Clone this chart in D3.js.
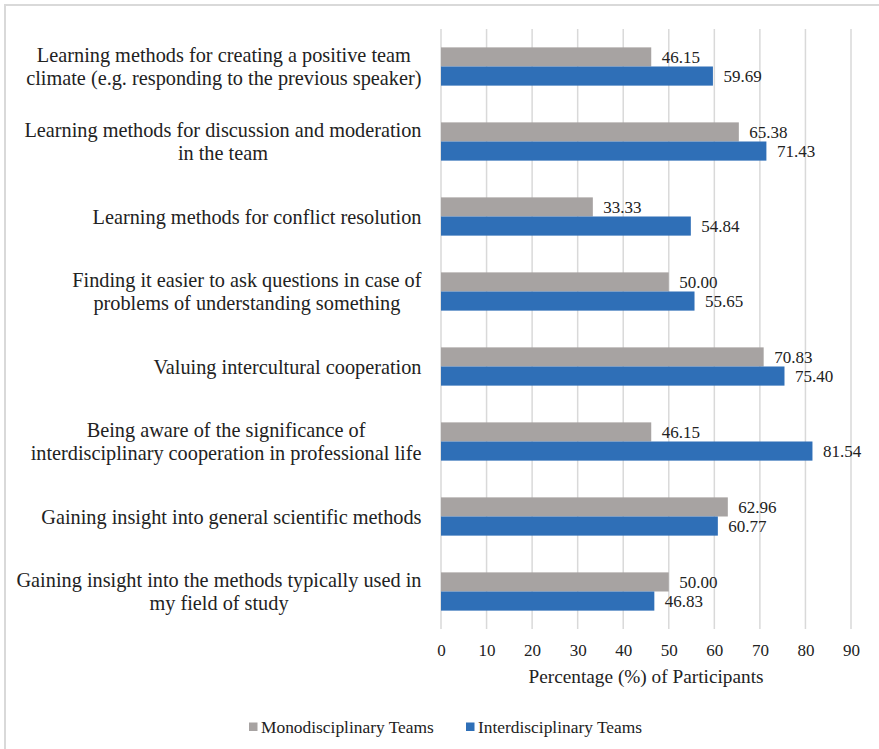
<!DOCTYPE html>
<html>
<head>
<meta charset="utf-8">
<script src="https://cdn.jsdelivr.net/npm/d3@7"></script>
<style>
  body { margin: 0; background: #fff; }
  text { font-family: "Liberation Serif", "Times New Roman", serif; fill: #222; }
</style>
</head>
<body>
<script>
// DATA
const categories = [
  "Learning methods for creating a positive team|climate (e.g. responding to the previous speaker)",
  "Learning methods for discussion and moderation|in the team",
  "Learning methods for conflict resolution",
  "Finding it easier to ask questions in case of|problems of understanding something",
  "Valuing intercultural cooperation",
  "Being aware of the significance of|interdisciplinary cooperation in professional life",
  "Gaining insight into general scientific methods",
  "Gaining insight into the methods typically used in|my field of study"
];
const mono = [46.15, 65.38, 33.33, 50.00, 70.83, 46.15, 62.96, 50.00];
const inter = [59.69, 71.43, 54.84, 55.65, 75.40, 81.54, 60.77, 46.83];
const seriesNames = ["Monodisciplinary Teams", "Interdisciplinary Teams"];
const colors = ["#a7a3a2", "#2f6fb7"];
const xTicks = [0, 10, 20, 30, 40, 50, 60, 70, 80, 90];

// CHART
const W = 879, H = 749;
const plotL = 441, plotR = 851, plotT = 29, plotB = 629;

const svg = d3.select("body").append("svg")
  .attr("width", W)
  .attr("height", H);

// outer frame
svg.append("rect")
  .attr("x", 5).attr("y", 5)
  .attr("width", W + 10).attr("height", H + 10)
  .attr("fill", "none")
  .attr("stroke", "#d9d9d9")
  .attr("stroke-width", 2);

const xScale = d3.scaleLinear().domain([0, 90]).range([plotL, plotR]);
const yScale = d3.scaleBand().domain(d3.range(categories.length)).range([plotT, plotB]).paddingInner(0.49).paddingOuter(0.245);
const sub = d3.scaleBand().domain([0, 1]).range([0, yScale.bandwidth()]);

// gridlines
svg.append("g")
  .selectAll("line")
  .data(xTicks)
  .enter()
  .append("line")
  .attr("x1", d => xScale(d))
  .attr("x2", d => xScale(d))
  .attr("y1", plotT)
  .attr("y2", plotB)
  .attr("stroke", "#d9d9d9")
  .attr("stroke-width", 1.5);

// x axis labels
const xAxis = d3.axisBottom(xScale).tickValues(xTicks).tickSize(0).tickPadding(15);
const gx = svg.append("g")
  .attr("transform", `translate(0, ${plotB})`)
  .call(xAxis);
gx.select(".domain").remove();
gx.selectAll("text")
  .style("font-family", '"Liberation Serif", serif')
  .style("font-size", "17px")
  .attr("fill", "#222");

svg.append("text")
  .text("Percentage (%) of Participants")
  .attr("x", (plotL + plotR) / 2)
  .attr("y", 676)
  .attr("dy", "0.35em")
  .attr("text-anchor", "middle")
  .style("font-size", "19.3px");

// bars
const series = [mono, inter];
series.forEach((vals, s) => {
  svg.append("g")
    .selectAll("rect")
    .data(vals)
    .enter()
    .append("rect")
    .attr("x", xScale(0))
    .attr("y", (d, i) => yScale(i) + sub(s))
    .attr("width", d => xScale(d) - xScale(0))
    .attr("height", sub.bandwidth())
    .attr("fill", colors[s]);

  svg.append("g")
    .selectAll("text")
    .data(vals)
    .enter()
    .append("text")
    .text(d => d.toFixed(2))
    .attr("x", d => xScale(d) + 10.5)
    .attr("y", (d, i) => yScale(i) + sub(s) + sub.bandwidth() / 2)
    .attr("dy", "0.36em")
    .style("font-size", "17px");
});

// category labels: block right aligned, lines centred inside the block
const labelRight = 421.5;
categories.forEach((c, i) => {
  const lines = c.split("|");
  const g = svg.append("g");
  const yc = yScale(i) + yScale.bandwidth() / 2;
  const lh = 23;
  const texts = lines.map((ln, j) => g.append("text")
    .text(ln)
    .attr("y", yc + (j - (lines.length - 1) / 2) * lh)
    .attr("dy", "0.35em")
    .attr("text-anchor", "middle")
    .style("font-size", "20.3px"));
  const maxW = d3.max(texts, t => t.node().getComputedTextLength());
  texts.forEach(t => t.attr("x", labelRight - maxW / 2));
});

// legend
const legX = [249, 466];
seriesNames.forEach((name, s) => {
  svg.append("rect")
    .attr("x", legX[s])
    .attr("y", 722.5)
    .attr("width", 8.5)
    .attr("height", 8.5)
    .attr("fill", colors[s]);
  svg.append("text")
    .text(name)
    .attr("x", legX[s] + 12)
    .attr("y", 727)
    .attr("dy", "0.35em")
    .style("font-size", "17.4px");
});
</script>
</body>
</html>
